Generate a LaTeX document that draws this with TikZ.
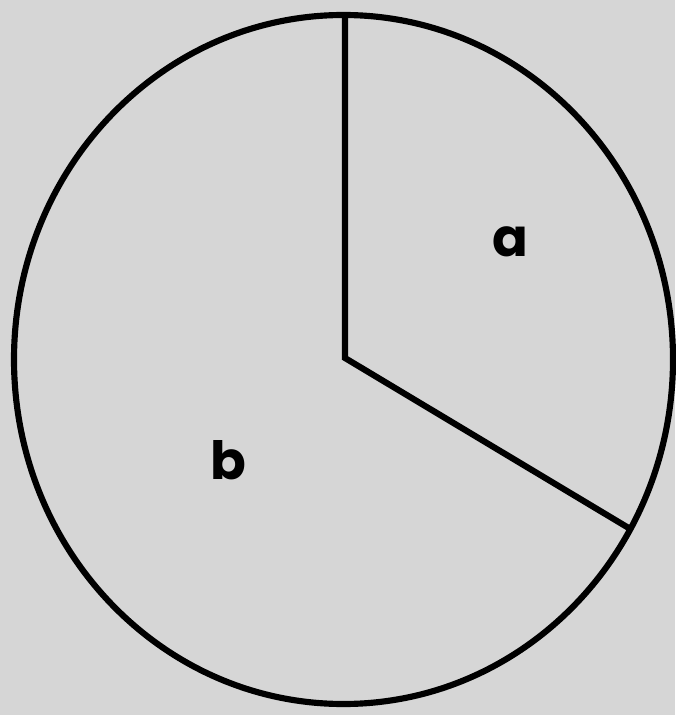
\documentclass[tikz,border=0pt]{standalone}
\usepackage{fontspec}
\newfontfamily\labelfont{Poppins}
\usepackage{tikz}
\usetikzlibrary{positioning}

\definecolor{paper}{RGB}{214,214,214}

\begin{document}
\begin{tikzpicture}[x=0.02cm, y=-0.02cm, line width=3.5pt,
  sector/.style={font=\labelfont\fontsize{30}{30}\selectfont\bfseries, inner sep=0pt}]

% --- background, fixes the margins ---
\fill[paper] (0,0) rectangle (675,715);
\useasboundingbox (0,0) rectangle (675,715);

% --- the disc ---
\draw (343.5,359.5) ellipse [x radius=329.5, y radius=344.5];

% --- the two radii ---
\coordinate (hub) at (345,358);
\coordinate (rimtop) at (345,15);
\coordinate (rimright) at (632,530);
\draw[line join=miter] (rimtop) -- (hub) -- (rimright);

% --- labels ---
\node[sector] (a) at (510,242) {a};
\node[sector] (b) at (228,460) {b};

\end{tikzpicture}
\end{document}
